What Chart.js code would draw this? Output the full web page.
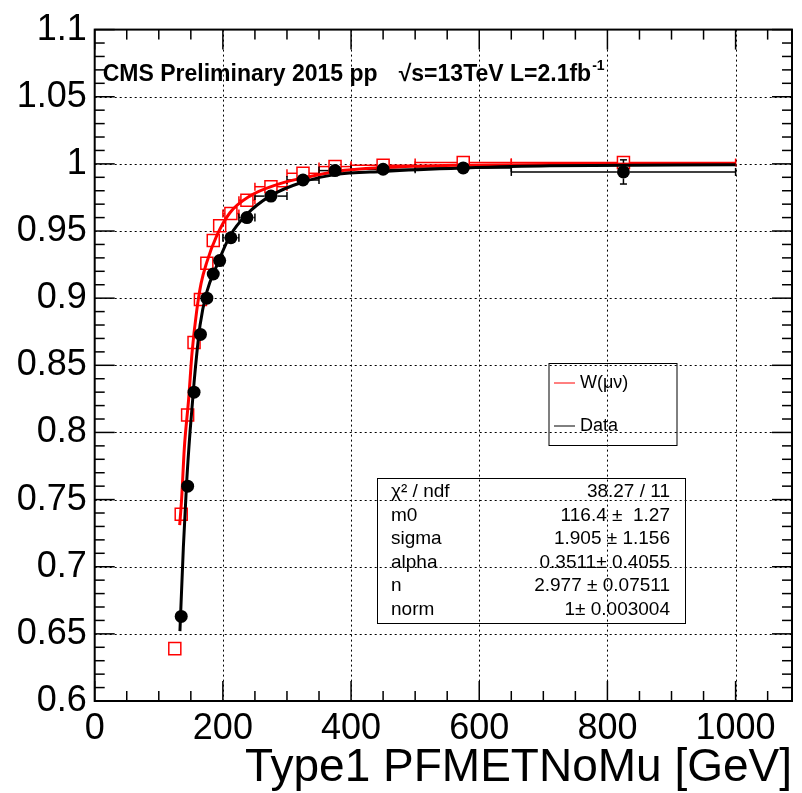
<!DOCTYPE html>
<html>

<head>
  <meta charset="utf-8">
  <title>Type1 PFMETNoMu trigger efficiency</title>
  <style>
    body {
      margin: 0;
      background-color: #FFF;
    }

    #wrap {
      width: 802px;
      height: 793px;
    }
  </style>
</head>

<body>
  <div id="wrap"><canvas id="effChart" width="802" height="793"></canvas></div>

  <script src="https://cdn.jsdelivr.net/npm/chart.js"></script>

  <script>
    // bins (GeV): centres and half widths
    const binCentres = [125, 135, 145, 155, 165, 175, 185, 195, 212.5, 237.5, 275, 325, 375, 450, 575, 825];
    const binHalfWidths = [5, 5, 5, 5, 5, 5, 5, 5, 12.5, 12.5, 25, 25, 25, 50, 75, 175];

    // W(mu nu) efficiency (red open squares)
    const mcEff = [0.639, 0.739, 0.813, 0.867, 0.899, 0.926, 0.943, 0.954, 0.963, 0.973, 0.983, 0.993, 0.998, 0.999, 1.001, 1.001];
    const mcErr = [0.003, 0.003, 0.003, 0.002, 0.002, 0.002, 0.002, 0.002, 0.001, 0.001, 0.001, 0.001, 0.001, 0.001, 0.001, 0.002];

    // data efficiency (black dots), first bin is below the y range
    const dataEff = [null, 0.663, 0.760, 0.830, 0.873, 0.900, 0.918, 0.928, 0.945, 0.960, 0.976, 0.988, 0.995, 0.996, 0.997, 0.994];
    const dataErr = [0, 0.0045, 0.004, 0.004, 0.004, 0.003, 0.003, 0.003, 0.002, 0.002, 0.002, 0.002, 0.002, 0.002, 0.002, 0.009];

    // fitted turn-on curves
    const mcFitX = [132.6, 135.7, 139.8, 146.6, 152, 159, 166, 174.7, 190.3, 211, 242, 284, 325, 377, 450, 575, 750, 1000];
    const mcFitY = [0.731, 0.751, 0.788, 0.825, 0.860, 0.890, 0.911, 0.9265, 0.9463, 0.9636, 0.976, 0.9845, 0.9895, 0.9944, 0.9972, 0.9990, 0.9997, 1.0];
    const dataFitX = [133, 138.3, 143.5, 148.7, 155, 164.3, 174.7, 190.3, 211, 237, 273.5, 325, 375, 450, 575, 710, 1000];
    const dataFitY = [0.652, 0.714, 0.763, 0.800, 0.837, 0.8796, 0.9043, 0.924, 0.9463, 0.9623, 0.976, 0.9865, 0.992, 0.9944, 0.9969, 0.9986, 0.9993];

    // axes
    const xMin = 0, xMax = 1088, xMinorStep = 50;
    const yMin = 0.6, yMax = 1.1, yMinorStep = 0.01;
    const xMajorTicks = [0, 200, 400, 600, 800, 1000];
    const xTickLabels = ['0', '200', '400', '600', '800', '1000'];
    const yMajorTicks = [0.6, 0.65, 0.7, 0.75, 0.8, 0.85, 0.9, 0.95, 1, 1.05, 1.1];
    const yTickLabels = ['0.6', '0.65', '0.7', '0.75', '0.8', '0.85', '0.9', '0.95', '1', '1.05', '1.1'];
    const xTitle = 'Type1 PFMETNoMu [GeV]';

    // legend and fit box text
    const legendLabels = ['W(\u03bc\u03bd)', 'Data'];
    const statNames = ['\u03c7\u00b2 / ndf', 'm0', 'sigma', 'alpha', 'n', 'norm'];
    const statValues = ['38.27 / 11', '116.4 \u00b1  1.27', '1.905 \u00b1 1.156', '0.3511\u00b1 0.4055', '2.977 \u00b1 0.07511', '1\u00b1 0.003004'];

    const FONT = '"Liberation Sans", Arial, Helvetica, sans-serif';
    Chart.defaults.font.family = FONT;
    Chart.defaults.color = '#000';

    const mcPoints = binCentres.map((x, i) => ({ x: x, y: mcEff[i] }));
    const dataPoints = binCentres.map((x, i) => ({ x: x, y: dataEff[i] })).filter(p => p.y !== null);
    const mcFit = mcFitX.map((x, i) => ({ x: x, y: mcFitY[i] }));
    const dataFit = dataFitX.map((x, i) => ({ x: x, y: dataFitY[i] }));

    function seg(ctx, x1, y1, x2, y2) {
      ctx.beginPath();
      ctx.moveTo(x1, y1);
      ctx.lineTo(x2, y2);
      ctx.stroke();
    }

    // error bars like ROOT: nothing drawn inside the marker
    function errorBars(chart, eff, err, colour, gap) {
      const ctx = chart.ctx;
      const { x, y } = chart.scales;
      ctx.strokeStyle = colour;
      ctx.lineWidth = 1.5;
      binCentres.forEach((c, i) => {
        if (eff[i] === null) return;
        const py = y.getPixelForValue(eff[i]);
        const px = x.getPixelForValue(c);
        const xl = x.getPixelForValue(c - binHalfWidths[i]);
        const xr = x.getPixelForValue(c + binHalfWidths[i]);
        if (px - xl > gap) {
          seg(ctx, xl, py, px - gap, py);
          seg(ctx, px + gap, py, xr, py);
          seg(ctx, xl, py - 4, xl, py + 4);
          seg(ctx, xr, py - 4, xr, py + 4);
        }
        const yt = y.getPixelForValue(eff[i] + err[i]);
        const yb = y.getPixelForValue(eff[i] - err[i]);
        if (py - yt > gap) {
          seg(ctx, px, yt, px, py - gap);
          seg(ctx, px - 3.5, yt, px + 3.5, yt);
        }
        if (yb - py > gap) {
          seg(ctx, px, py + gap, px, yb);
          seg(ctx, px - 3.5, yb, px + 3.5, yb);
        }
      });
    }

    // ROOT style frame: dotted grid, inward ticks on all sides, boxes
    const rootFrame = {
      id: 'rootFrame',
      beforeDatasetsDraw(chart) {
        const { ctx, chartArea: a, scales: { x, y } } = chart;
        ctx.save();
        ctx.strokeStyle = '#000';
        ctx.lineWidth = 1;
        ctx.setLineDash([2, 3]);
        xMajorTicks.forEach(v => {
          if (v <= xMin || v >= xMax) return;
          const px = Math.round(x.getPixelForValue(v)) + 0.5;
          seg(ctx, px, a.top, px, a.bottom);
        });
        yMajorTicks.forEach(v => {
          if (v <= yMin + 1e-9 || v >= yMax - 1e-9) return;
          const py = Math.round(y.getPixelForValue(v)) + 0.5;
          seg(ctx, a.left, py, a.right, py);
        });
        ctx.setLineDash([]);
        errorBars(chart, mcEff, mcErr, '#FF0000', 6);
        errorBars(chart, dataEff, dataErr, '#000', 6.5);
        ctx.restore();
      },
      afterDraw(chart) {
        const { ctx, chartArea: a, scales: { x, y } } = chart;
        ctx.save();
        ctx.strokeStyle = '#000';
        ctx.lineWidth = 1.5;
        for (let v = xMin; v <= xMax; v += xMinorStep) {
          const px = x.getPixelForValue(v);
          const len = v % 200 === 0 ? 20 : 10;
          seg(ctx, px, a.bottom, px, a.bottom - len);
          seg(ctx, px, a.top, px, a.top + len);
        }
        for (let k = 0; k <= Math.round((yMax - yMin) / yMinorStep); k++) {
          const py = y.getPixelForValue(yMin + k * yMinorStep);
          const len = k % 5 === 0 ? 20 : 10;
          seg(ctx, a.left, py, a.left + len, py);
          seg(ctx, a.right, py, a.right - len, py);
        }
        ctx.lineWidth = 2;
        ctx.strokeRect(a.left, a.top, a.right - a.left, a.bottom - a.top);

        // header
        ctx.fillStyle = '#000';
        ctx.textBaseline = 'alphabetic';
        ctx.textAlign = 'left';
        ctx.font = 'bold 23px ' + FONT;
        ctx.fillText('CMS Preliminary 2015 pp', a.left + 8, a.top + 51);
        const s = '\u221as=13TeV L=2.1fb';
        ctx.fillText(s, a.left + 304, a.top + 51);
        const sw = ctx.measureText(s).width;
        ctx.font = 'bold 14px ' + FONT;
        ctx.fillText('-1', a.left + 304 + sw + 1, a.top + 40);

        // legend
        ctx.lineWidth = 1;
        ctx.strokeRect(549, 363.5, 128, 82);
        ctx.font = '18px ' + FONT;
        ctx.textBaseline = 'middle';
        [['#FF0000', 383], ['#000', 426]].forEach((d, i) => {
          ctx.strokeStyle = d[0];
          seg(ctx, 554, d[1], 575, d[1]);
          ctx.fillText(legendLabels[i], 580, d[1]);
        });

        // fit results
        ctx.strokeStyle = '#000';
        ctx.strokeRect(377.5, 478.5, 308, 145);
        ctx.font = '19px ' + FONT;
        statNames.forEach((name, i) => {
          const py = 492 + i * 23.5;
          ctx.textAlign = 'left';
          ctx.fillText(name, 391, py);
          ctx.textAlign = 'right';
          ctx.fillText(statValues[i], 670, py);
        });
        ctx.restore();
      }
    };

    new Chart(document.getElementById('effChart'), {
      type: 'scatter',
      data: {
        datasets: [
          { label: 'Data', data: dataPoints, pointStyle: 'circle', pointRadius: 6.5, backgroundColor: '#000', borderColor: '#000', borderWidth: 0, order: 0 },
          { label: 'Data fit', data: dataFit, showLine: true, pointRadius: 0, borderColor: '#000', borderWidth: 3, cubicInterpolationMode: 'monotone', order: 1 },
          { label: 'W fit', data: mcFit, showLine: true, pointRadius: 0, borderColor: '#FF0000', borderWidth: 3, cubicInterpolationMode: 'monotone', order: 2 },
          { label: 'W(\u03bc\u03bd)', data: mcPoints, pointStyle: 'rect', pointRadius: 8.5, backgroundColor: 'rgba(0,0,0,0)', borderColor: '#FF0000', borderWidth: 1.5, order: 3 }
        ]
      },
      options: {
        responsive: false,
        animation: false,
        devicePixelRatio: 1,
        layout: { padding: { top: 25, right: 10, left: 0, bottom: 0 } },
        plugins: { legend: { display: false }, tooltip: { enabled: false } },
        scales: {
          x: {
            type: 'linear', min: xMin, max: xMax,
            grid: { display: false, drawTicks: false },
            border: { display: false },
            afterBuildTicks: s => { s.ticks = xMajorTicks.map(v => ({ value: v })); },
            afterFit: s => { s.height = 92; },
            ticks: { color: '#000', font: { size: 36 }, padding: 6, maxRotation: 0, autoSkip: false, callback: (v, i) => xTickLabels[i] },
            title: { display: true, text: xTitle, align: 'end', color: '#000', font: { size: 46, lineHeight: 1 }, padding: { top: 0, bottom: 2 } }
          },
          y: {
            type: 'linear', min: yMin, max: yMax,
            grid: { display: false, drawTicks: false },
            border: { display: false },
            afterBuildTicks: s => { s.ticks = yMajorTicks.map(v => ({ value: v })); },
            afterFit: s => { s.width = 94.7; },
            ticks: { color: '#000', font: { size: 36 }, padding: 8, autoSkip: false, callback: (v, i) => yTickLabels[i] }
          }
        }
      },
      plugins: [rootFrame]
    });
  </script>
</body>

</html>
